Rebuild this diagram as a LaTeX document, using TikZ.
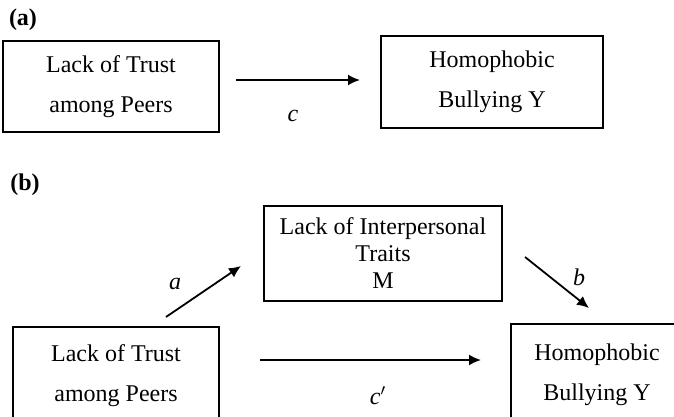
\documentclass[tikz,border=0pt]{standalone}
\usepackage{fontspec}
\setmainfont{Liberation Serif}
\usetikzlibrary{positioning}
\usetikzlibrary{calc,arrows.meta}

\begin{document}
\begin{tikzpicture}[x=0.5pt, y=-0.5pt,
		box/.style={draw, line width=0.7pt, align=center, inner sep=0pt},
		wide/.style={font={\fontsize{12}{20}\selectfont}},
		tight/.style={font={\fontsize{12}{13.5}\selectfont}},
		link/.style={line width=0.9pt, -{Latex[length=6pt,width=5.5pt]}},
		coef/.style={font={\fontsize{12}{14}\selectfont\itshape}}]
		\useasboundingbox (0,0) rectangle (674,417);
		\clip (0,0) rectangle (674,417);
		% panel (a)
		\node[font={\fontsize{12}{14}\selectfont\bfseries}] (lbl_a) at (23,20) {(a)};
		\node[box, wide, minimum width=108pt, minimum height=45.5pt] (trust_a) at (111,86.5) {Lack of Trust\\among Peers};
		\node[box, wide, minimum width=111pt, minimum height=46pt] (bully_a) at (492,82) {Homophobic\\Bullying Y};
		\coordinate (c_from) at (236,80);
		\coordinate (c_to) at (360,80);
		\draw[link] (c_from) -- (c_to);
		\node[coef] (lbl_c) at (293,116) {c};
		% panel (b)
		\node[font={\fontsize{12}{14}\selectfont\bfseries}] (lbl_b) at (25,185) {(b)};
		\node[box, tight, minimum width=119pt, minimum height=47.5pt] (traits) at (383,253.5) {Lack of Interpersonal\\Traits\\M};
		\node[box, wide, minimum width=103pt, minimum height=49pt] (trust_b) at (116,376) {Lack of Trust\\among Peers};
		\node[box, wide, minimum width=86pt, minimum height=50.5pt] (bully_b) at (597,374.5) {Homophobic\\Bullying Y};
		\coordinate (a_from) at (166,317);
		\coordinate (a_to) at (241,266);
		\coordinate (b_from) at (525,257);
		\coordinate (b_to) at (589,308);
		\coordinate (cp_from) at (260,360);
		\coordinate (cp_to) at (481,360);
		\draw[link] (a_from) -- (a_to);
		\draw[link] (b_from) -- (b_to);
		\draw[link] (cp_from) -- (cp_to);
		\node[coef] (lbl_a2) at (175,284) {a};
		\node[coef] (lbl_b2) at (579,277) {b};
		\node[coef] (lbl_cp) at (378,396) {c$'$};
\end{tikzpicture}
\end{document}
